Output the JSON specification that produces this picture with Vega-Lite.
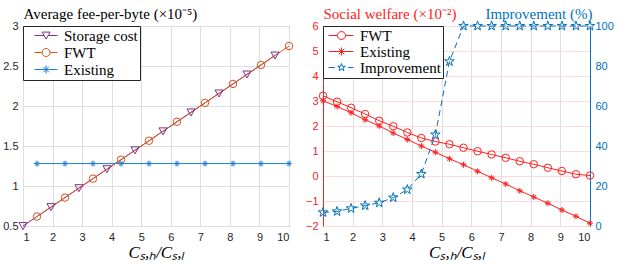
{
  "$schema": "https://vega.github.io/schema/vega-lite/v6.json",
  "padding": {"left": 2, "top": 5, "right": 5, "bottom": 2},
  "background": "white",
  "config": {
    "view": {"stroke": "#262626", "strokeWidth": 1},
    "axis": {
      "labelFont": "Liberation Sans", "labelFontSize": 11, "labelColor": "#262626",
      "ticks": false, "labelPadding": 5, "domain": false,
      "gridColor": "#dedede", "gridWidth": 1,
      "titleFont": "Liberation Serif", "titleFontWeight": "normal", "titleColor": "#000000"
    }
  },
  "resolve": {"scale": {"color": "independent", "shape": "independent"}},
  "datasets": {
    "fee": [
      {"x": 1, "y": 0.5, "s": "Storage cost"},
      {"x": 1.9474, "y": 0.737, "s": "Storage cost"},
      {"x": 2.8947, "y": 0.974, "s": "Storage cost"},
      {"x": 3.8421, "y": 1.211, "s": "Storage cost"},
      {"x": 4.7895, "y": 1.447, "s": "Storage cost"},
      {"x": 5.7368, "y": 1.684, "s": "Storage cost"},
      {"x": 6.6842, "y": 1.921, "s": "Storage cost"},
      {"x": 7.6316, "y": 2.158, "s": "Storage cost"},
      {"x": 8.5789, "y": 2.395, "s": "Storage cost"},
      {"x": 9.5263, "y": 2.632, "s": "Storage cost"},
      {"x": 1.4737, "y": 0.618, "s": "FWT"},
      {"x": 2.4211, "y": 0.855, "s": "FWT"},
      {"x": 3.3684, "y": 1.092, "s": "FWT"},
      {"x": 4.3158, "y": 1.329, "s": "FWT"},
      {"x": 5.2632, "y": 1.566, "s": "FWT"},
      {"x": 6.2105, "y": 1.803, "s": "FWT"},
      {"x": 7.1579, "y": 2.039, "s": "FWT"},
      {"x": 8.1053, "y": 2.276, "s": "FWT"},
      {"x": 9.0526, "y": 2.513, "s": "FWT"},
      {"x": 10, "y": 2.75, "s": "FWT"},
      {"x": 1.4737, "y": 1.28, "s": "Existing"},
      {"x": 2.4211, "y": 1.28, "s": "Existing"},
      {"x": 3.3684, "y": 1.28, "s": "Existing"},
      {"x": 4.3158, "y": 1.28, "s": "Existing"},
      {"x": 5.2632, "y": 1.28, "s": "Existing"},
      {"x": 6.2105, "y": 1.28, "s": "Existing"},
      {"x": 7.1579, "y": 1.28, "s": "Existing"},
      {"x": 8.1053, "y": 1.28, "s": "Existing"},
      {"x": 9.0526, "y": 1.28, "s": "Existing"},
      {"x": 10, "y": 1.28, "s": "Existing"}
    ],
    "sw": [
      {"x": 1, "y": 3.21, "s": "FWT"},
      {"x": 1.4737, "y": 2.97, "s": "FWT"},
      {"x": 1.9474, "y": 2.73, "s": "FWT"},
      {"x": 2.4211, "y": 2.48, "s": "FWT"},
      {"x": 2.8947, "y": 2.21, "s": "FWT"},
      {"x": 3.3684, "y": 1.99, "s": "FWT"},
      {"x": 3.8421, "y": 1.74, "s": "FWT"},
      {"x": 4.3158, "y": 1.52, "s": "FWT"},
      {"x": 4.7895, "y": 1.38, "s": "FWT"},
      {"x": 5.2632, "y": 1.27, "s": "FWT"},
      {"x": 5.7368, "y": 1.13, "s": "FWT"},
      {"x": 6.2105, "y": 0.99, "s": "FWT"},
      {"x": 6.6842, "y": 0.86, "s": "FWT"},
      {"x": 7.1579, "y": 0.73, "s": "FWT"},
      {"x": 7.6316, "y": 0.59, "s": "FWT"},
      {"x": 8.1053, "y": 0.47, "s": "FWT"},
      {"x": 8.5789, "y": 0.33, "s": "FWT"},
      {"x": 9.0526, "y": 0.2, "s": "FWT"},
      {"x": 9.5263, "y": 0.07, "s": "FWT"},
      {"x": 10, "y": 0.02, "s": "FWT"},
      {"x": 1, "y": 3.01, "s": "Existing"},
      {"x": 1.4737, "y": 2.78, "s": "Existing"},
      {"x": 1.9474, "y": 2.53, "s": "Existing"},
      {"x": 2.4211, "y": 2.25, "s": "Existing"},
      {"x": 2.8947, "y": 2.0, "s": "Existing"},
      {"x": 3.3684, "y": 1.72, "s": "Existing"},
      {"x": 3.8421, "y": 1.46, "s": "Existing"},
      {"x": 4.3158, "y": 1.2, "s": "Existing"},
      {"x": 4.7895, "y": 0.95, "s": "Existing"},
      {"x": 5.2632, "y": 0.69, "s": "Existing"},
      {"x": 5.7368, "y": 0.45, "s": "Existing"},
      {"x": 6.2105, "y": 0.19, "s": "Existing"},
      {"x": 6.6842, "y": -0.07, "s": "Existing"},
      {"x": 7.1579, "y": -0.32, "s": "Existing"},
      {"x": 7.6316, "y": -0.59, "s": "Existing"},
      {"x": 8.1053, "y": -0.84, "s": "Existing"},
      {"x": 8.5789, "y": -1.09, "s": "Existing"},
      {"x": 9.0526, "y": -1.36, "s": "Existing"},
      {"x": 9.5263, "y": -1.61, "s": "Existing"},
      {"x": 10, "y": -1.89, "s": "Existing"}
    ],
    "imp": [
      {"x": 1, "v": 6.8},
      {"x": 1.4737, "v": 7.3},
      {"x": 1.9474, "v": 8.8},
      {"x": 2.4211, "v": 10.2},
      {"x": 2.8947, "v": 11.6},
      {"x": 3.3684, "v": 14.2},
      {"x": 3.8421, "v": 18.2},
      {"x": 4.3158, "v": 26},
      {"x": 4.7895, "v": 45.7},
      {"x": 5.2632, "v": 82.3},
      {"x": 5.7368, "v": 100},
      {"x": 6.2105, "v": 100},
      {"x": 6.6842, "v": 100},
      {"x": 7.1579, "v": 100},
      {"x": 7.6316, "v": 100},
      {"x": 8.1053, "v": 100},
      {"x": 8.5789, "v": 100},
      {"x": 9.0526, "v": 100},
      {"x": 9.5263, "v": 100},
      {"x": 10, "v": 100}
    ]
  },
  "spacing": -3,
  "hconcat": [
    {
      "width": 266,
      "height": 200,
      "data": {"name": "fee"},
      "encoding": {
        "x": {"field": "x", "type": "quantitative",
          "scale": {"domain": [1, 10], "nice": false, "zero": false},
          "axis": {"values": [1, 2, 3, 4, 5, 6, 7, 8, 9, 10], "title": "Cₛ,ₕ/Cₛ,ₗ",
            "titleFont": "Liberation Serif", "titleFontStyle": "italic", "titleFontSize": 17, "titlePadding": 2}},
        "y": {"field": "y", "type": "quantitative",
          "scale": {"domain": [0.5, 3], "nice": false, "zero": false},
          "axis": {"values": [0.5, 1, 1.5, 2, 2.5, 3], "format": "~g",
            "title": "Average fee-per-byte (×10⁻⁵)", "titleFontSize": 15,
            "titleAngle": 0, "titleAlign": "left", "titleBaseline": "alphabetic", "titleX": 0, "titleY": -8}}
      },
      "layer": [
        {
          "transform": [{"filter": "datum.s === 'Storage cost'"}],
          "mark": {"type": "line", "strokeWidth": 1, "color": "#7E2F8E"}
        },
        {
          "transform": [{"filter": "datum.s === 'FWT'"}],
          "mark": {"type": "line", "strokeWidth": 1, "color": "#D95319"}
        },
        {
          "transform": [{"filter": "datum.s === 'Existing'"}],
          "mark": {"type": "line", "strokeWidth": 1, "color": "#1a7fd0"}
        },
        {
          "transform": [{"filter": "datum.s === 'Storage cost'"}],
          "mark": {"type": "point", "filled": false, "strokeWidth": 1, "color": "#7E2F8E", "opacity": 1, "size": 64,
            "shape": "M-1,-0.85L1,-0.85L0,0.9Z"}
        },
        {
          "transform": [{"filter": "datum.s === 'FWT'"}],
          "mark": {"type": "point", "filled": false, "strokeWidth": 1, "color": "#D95319", "opacity": 1, "size": 56, "shape": "circle"}
        },
        {
          "transform": [{"filter": "datum.s === 'Existing'"}],
          "mark": {"type": "point", "filled": false, "strokeWidth": 1, "color": "#1a7fd0", "opacity": 1, "size": 36,
            "shape": "M-1,0L1,0M0,-1L0,1M-0.7,-0.7L0.7,0.7M-0.7,0.7L0.7,-0.7"}
        },
        {
          "mark": {"type": "point", "filled": false, "opacity": 0, "strokeWidth": 1},
          "encoding": {
            "color": {"field": "s", "type": "nominal",
              "scale": {"domain": ["Storage cost", "FWT", "Existing"], "range": ["#7E2F8E", "#D95319", "#1a7fd0"]},
              "legend": {"orient": "top-left", "offset": 0, "padding": 2, "title": null,
                "fillColor": "white", "strokeColor": "#262626",
                "labelFont": "Liberation Serif", "labelFontSize": 15, "labelColor": "#000000",
                "labelOffset": 24, "rowPadding": 1, "symbolSize": 64, "symbolStrokeWidth": 1, "symbolOpacity": 1,
                "labelExpr": "datum.label + '\u00a0\u00a0\u00a0'"}},
            "shape": {"field": "s", "type": "nominal",
              "scale": {"domain": ["Storage cost", "FWT", "Existing"],
                "range": [
                  "M0.5,0L2.9,0M3.9,0L6.25,0M2.4,-0.85L4.4,-0.85L3.4,0.9Z",
                  "M0.5,0L2.4,0M4.4,0L6.25,0M2.4,0A1,1 0 1,0 4.4,0A1,1 0 1,0 2.4,0",
                  "M0.5,0L6.25,0M3.4,-1L3.4,1M2.7,-0.7L4.1,0.7M2.7,0.7L4.1,-0.7"
                ]},
              "legend": {"orient": "top-left", "offset": 0, "padding": 2, "title": null,
                "fillColor": "white", "strokeColor": "#262626",
                "labelFont": "Liberation Serif", "labelFontSize": 15, "labelColor": "#000000",
                "labelOffset": 24, "rowPadding": 1, "symbolSize": 64, "symbolStrokeWidth": 1, "symbolOpacity": 1,
                "labelExpr": "datum.label + '\u00a0\u00a0\u00a0'"}}
          }
        }
      ]
    },
    {
      "width": 267,
      "height": 200,
      "encoding": {
        "x": {"field": "x", "type": "quantitative",
          "scale": {"domain": [1, 10], "nice": false, "zero": false},
          "axis": {"values": [1, 2, 3, 4, 5, 6, 7, 8, 9, 10], "title": "Cₛ,ₕ/Cₛ,ₗ",
            "titleFont": "Liberation Serif", "titleFontStyle": "italic", "titleFontSize": 17, "titlePadding": 2}}
      },
      "layer": [
        {
          "data": {"name": "sw"},
          "encoding": {
            "y": {"field": "y", "type": "quantitative",
              "scale": {"domain": [-2, 6], "nice": false, "zero": false},
              "axis": {"values": [-2, -1, 0, 1, 2, 3, 4, 5, 6], "orient": "left",
                "labelColor": "#ff2020", "domain": true, "domainColor": "#ff2020", "gridColor": "#ffd9d9",
                "title": "Social welfare (×10⁻²)", "titleColor": "#ff2020", "titleFontSize": 15,
                "titleAngle": 0, "titleAlign": "left", "titleBaseline": "alphabetic", "titleX": 0, "titleY": -8}}
          },
          "layer": [
            {
              "mark": {"type": "line", "strokeWidth": 1, "color": "#ff2020"},
              "encoding": {"detail": {"field": "s", "type": "nominal"}}
            },
            {
              "transform": [{"filter": "datum.s === 'FWT'"}],
              "mark": {"type": "point", "filled": false, "strokeWidth": 1, "color": "#ff2020", "opacity": 1, "size": 56, "shape": "circle"}
            },
            {
              "transform": [{"filter": "datum.s === 'Existing'"}],
              "mark": {"type": "point", "filled": false, "strokeWidth": 1, "color": "#ff2020", "opacity": 1, "size": 36,
                "shape": "M-1,0L1,0M0,-1L0,1M-0.7,-0.7L0.7,0.7M-0.7,0.7L0.7,-0.7"}
            },
            {
              "mark": {"type": "point", "filled": false, "opacity": 0, "strokeWidth": 1},
              "encoding": {
                "color": {"field": "s", "type": "nominal",
                  "scale": {"domain": ["FWT", "Existing", "Improvement"], "range": ["#ff2020", "#ff2020", "#0072BD"]},
                  "legend": {"orient": "top-left", "offset": 0, "padding": 2, "title": null,
                    "fillColor": "white", "strokeColor": "#262626",
                    "labelFont": "Liberation Serif", "labelFontSize": 15, "labelColor": "#000000",
                    "labelOffset": 20, "rowPadding": 0, "symbolSize": 64, "symbolStrokeWidth": 1, "symbolOpacity": 1}},
                "shape": {"field": "s", "type": "nominal",
                  "scale": {"domain": ["FWT", "Existing", "Improvement"],
                    "range": [
                      "M-1,0L1.25,0M3.25,0L5.25,0M1.25,0A1,1 0 1,0 3.25,0A1,1 0 1,0 1.25,0",
                      "M-1,0L5.25,0M2.25,-1L2.25,1M1.55,-0.7L2.95,0.7M1.55,0.7L2.95,-0.7",
                      "M-1,0L0.6,0M3.9,0L5.25,0M2.25,-1L2.475,-0.309L3.201,-0.309L2.613,0.118L2.838,0.809L2.25,0.382L1.662,0.809L1.887,0.118L1.299,-0.309L2.025,-0.309Z"
                    ]},
                  "legend": {"orient": "top-left", "offset": 0, "padding": 2, "title": null,
                    "fillColor": "white", "strokeColor": "#262626",
                    "labelFont": "Liberation Serif", "labelFontSize": 15, "labelColor": "#000000",
                    "labelOffset": 20, "rowPadding": 0, "symbolSize": 64, "symbolStrokeWidth": 1, "symbolOpacity": 1}}
              }
            }
          ]
        },
        {
          "data": {"name": "imp"},
          "encoding": {
            "y": {"field": "v", "type": "quantitative",
              "scale": {"domain": [0, 100], "nice": false, "zero": false},
              "axis": {"values": [0, 20, 40, 60, 80, 100], "orient": "right", "grid": false,
                "labelColor": "#0072BD", "domain": true, "domainColor": "#0072BD",
                "title": "Improvement (%)", "titleColor": "#0072BD", "titleFontSize": 15,
                "titleAngle": 0, "titleAlign": "right", "titleBaseline": "alphabetic", "titleX": 2, "titleY": -8}}
          },
          "layer": [
            {
              "mark": {"type": "line", "strokeWidth": 1, "color": "#0072BD", "strokeDash": [6, 4]}
            },
            {
              "mark": {"type": "point", "filled": false, "strokeWidth": 1, "color": "#0072BD", "opacity": 1, "size": 100,
                "shape": "M0,-1L0.225,-0.309L0.951,-0.309L0.363,0.118L0.588,0.809L0,0.382L-0.588,0.809L-0.363,0.118L-0.951,-0.309L-0.225,-0.309Z"}
            }
          ]
        }
      ],
      "resolve": {"scale": {"y": "independent"}}
    }
  ]
}
